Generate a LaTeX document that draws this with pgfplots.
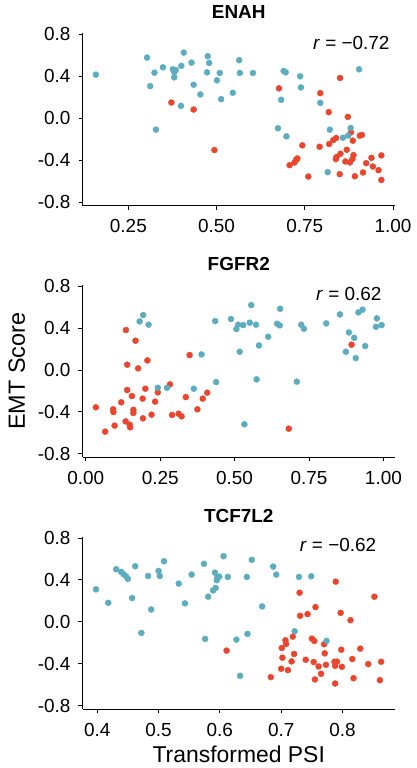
\documentclass[border=0pt]{standalone}
\usepackage{pgfplots}
\pgfplotsset{compat=1.18}
\usepackage{fontspec}
\setmainfont{Liberation Sans}

\definecolor{emtblue}{HTML}{5BADBF}
\definecolor{emtred}{HTML}{EC452E}

\tikzset{rnote/.style={anchor=base east, font=\fontsize{19}{20}\selectfont}}

\pgfplotsset{
  psipanel/.style={
    scale only axis,
    width=312.5bp, height=172.3bp,
    axis x line=bottom, axis y line=left,
    axis line style={-, line width=0.9bp, black},
    every tick/.style={line width=0.9bp, black},
    tick align=outside,
    major tick length=4bp,
    ymin=-0.835, ymax=0.81,
    ytick={-0.8,-0.4,0,0.4,0.8},
    yticklabels={-0.8,-0.4,0.0,0.4,0.8},
    tick label style={font=\fontsize{19}{20}\selectfont},
    xticklabel style={yshift=-6.5bp},
    yticklabel style={xshift=-4.5bp},
    title style={font=\fontsize{19}{20}\selectfont\bfseries, anchor=base,
                 at={(axis description cs:0.5,1.05)}},
    clip=false,
  },
  bluept/.style={only marks, mark=*, mark size=3bp, color=emtblue, mark options={draw=none, fill=emtblue}},
  redpt/.style={only marks, mark=*, mark size=3bp, color=emtred, mark options={draw=none, fill=emtred}},
}

\begin{document}
\begin{tikzpicture}
\useasboundingbox (0bp,0bp) rectangle (417bp,768bp);

% ENAH
\begin{axis}[psipanel, at={(82.5bp,562.3bp)}, anchor=south west,
  title={ENAH},
  xmin=0.12, xmax=1.0057,
  xtick={0.25,0.5,0.75,1}, xticklabels={0.25,0.50,0.75,1.00}]
\addplot[redpt] coordinates {
 (0.372,0.150) (0.435,0.083) (0.494,-0.304) (0.677,0.285) (0.743,-0.259)
 (0.707,-0.448) (0.721,-0.422) (0.726,-0.394) (0.729,-0.384) (0.760,-0.557)
 (0.794,0.240) (0.792,-0.272) (0.818,0.058) (0.819,-0.246) (0.831,-0.208)
 (0.839,-0.189) (0.850,0.384) (0.851,-0.339) (0.849,-0.534) (0.838,-0.390)
 (0.840,-0.370) (0.869,-0.301) (0.872,0.013) (0.881,-0.134) (0.886,-0.214)
 (0.865,-0.413) (0.878,-0.422) (0.885,-0.390) (0.888,-0.352) (0.892,-0.554)
 (0.906,-0.166) (0.912,-0.160) (0.915,-0.518) (0.924,-0.429) (0.939,-0.378)
 (0.943,-0.461) (0.959,-0.496) (0.967,-0.355) (0.967,-0.589)
};
\addplot[bluept] coordinates {
 (0.158,0.416) (0.303,0.579) (0.312,0.307) (0.324,0.435) (0.348,0.486)
 (0.328,-0.109) (0.376,0.467) (0.380,0.440) (0.384,0.460) (0.380,0.390)
 (0.400,0.500) (0.399,0.118) (0.407,0.627) (0.429,0.531) (0.435,0.320)
 (0.454,0.227) (0.473,0.438) (0.475,0.592) (0.479,0.528) (0.501,0.362)
 (0.509,0.432) (0.513,0.182) (0.546,0.243) (0.564,0.554) (0.566,0.432)
 (0.603,0.432) (0.674,-0.096) (0.683,0.176) (0.690,0.451) (0.696,0.438)
 (0.698,-0.173) (0.737,0.400) (0.739,0.294) (0.794,0.147) (0.821,-0.109)
 (0.815,-0.515) (0.858,-0.186) (0.873,-0.166) (0.880,-0.093) (0.904,0.467)
};
\node[rnote] at (axis description cs:0.9936,0.909) {\textit{r} = −0.72};
\end{axis}

% FGFR2
\begin{axis}[psipanel, at={(82.5bp,310.5bp)}, anchor=south west,
  title={FGFR2},
  xmin=-0.011, xmax=1.039,
  xtick={0,0.25,0.5,0.75,1}, xticklabels={0.00,0.25,0.50,0.75,1.00},
  ylabel={EMT Score},
  ylabel style={font=\fontsize{23.5}{25}\selectfont, anchor=base,
                at={(axis description cs:-0.184,0.5)}}]
\addplot[redpt] coordinates {
 (0.034,-0.356) (0.065,-0.588) (0.092,-0.375) (0.093,-0.401) (0.097,-0.531)
 (0.119,-0.308) (0.134,-0.490) (0.135,0.382) (0.139,-0.191) (0.139,0.051)
 (0.148,-0.522) (0.149,-0.547) (0.155,-0.248) (0.160,-0.380) (0.160,-0.410)
 (0.167,0.280) (0.176,0.016) (0.191,-0.273) (0.192,-0.461) (0.200,-0.178)
 (0.207,0.092) (0.221,-0.426) (0.233,-0.302) (0.242,-0.213) (0.283,-0.137)
 (0.290,-0.429) (0.312,-0.417) (0.322,-0.442) (0.336,-0.258) (0.349,0.143)
 (0.375,-0.375) (0.393,-0.273) (0.408,-0.216) (0.682,-0.560) (0.893,0.242)
};
\addplot[bluept] coordinates {
 (0.181,0.464) (0.193,0.525) (0.211,0.433) (0.242,-0.169) (0.273,-0.169)
 (0.363,-0.178) (0.389,0.149) (0.435,0.467) (0.438,-0.115) (0.488,0.487)
 (0.506,0.391) (0.512,0.433) (0.517,0.175) (0.529,0.429) (0.551,0.452)
 (0.556,0.620) (0.572,0.433) (0.574,-0.089) (0.582,0.235) (0.533,-0.518)
 (0.613,0.318) (0.643,0.442) (0.652,0.426) (0.653,0.585) (0.709,-0.111)
 (0.724,0.433) (0.733,0.394) (0.808,0.445) (0.854,0.531) (0.874,0.175)
 (0.884,0.359) (0.902,0.308) (0.907,0.114) (0.916,0.550) (0.930,0.576)
 (0.939,0.229) (0.978,0.493) (0.975,0.413) (0.994,0.429)
};
\node[rnote] at (axis description cs:0.968,0.909) {\textit{r} = 0.62};
\end{axis}

% TCF7L2
\begin{axis}[psipanel, at={(82.5bp,58.7bp)}, anchor=south west,
  title={TCF7L2},
  xmin=0.376, xmax=0.8856,
  xtick={0.4,0.5,0.6,0.7,0.8}, xticklabels={0.4,0.5,0.6,0.7,0.8},
  xlabel={Transformed PSI},
  xlabel style={font=\fontsize{23}{25}\selectfont, anchor=base,
                at={(axis description cs:0.5,-0.31)}}]
\addplot[redpt] coordinates {
 (0.611,-0.275) (0.683,-0.528) (0.700,-0.448) (0.701,-0.250) (0.702,-0.342)
 (0.707,-0.176) (0.708,-0.211) (0.711,-0.461) (0.717,-0.378) (0.719,-0.141)
 (0.721,-0.307) (0.730,0.278) (0.731,0.058) (0.740,-0.362) (0.743,0.074)
 (0.750,-0.160) (0.754,-0.182) (0.753,-0.384) (0.755,-0.550) (0.756,0.141)
 (0.761,-0.426) (0.765,-0.496) (0.770,-0.214) (0.771,-0.301) (0.773,-0.410)
 (0.787,-0.381) (0.788,-0.420) (0.791,-0.380) (0.788,-0.589) (0.789,0.384)
 (0.797,0.086) (0.798,-0.266) (0.799,-0.429) (0.813,0.016) (0.816,-0.355)
 (0.818,-0.538) (0.829,-0.256) (0.842,-0.403) (0.852,0.240) (0.861,-0.557)
 (0.863,-0.381)
};
\addplot[bluept] coordinates {
 (0.398,0.310) (0.418,0.182) (0.431,0.502) (0.439,0.477) (0.443,0.454)
 (0.447,0.435) (0.450,0.410) (0.457,0.227) (0.462,0.531) (0.472,-0.106)
 (0.483,0.438) (0.488,0.118) (0.500,0.486) (0.502,0.438) (0.509,0.579)
 (0.533,0.365) (0.543,0.176) (0.554,0.451) (0.574,0.554) (0.576,-0.163)
 (0.581,0.240) (0.589,0.300) (0.593,0.323) (0.595,0.397) (0.592,0.470)
 (0.596,0.426) (0.599,0.432) (0.606,0.627) (0.613,0.429) (0.627,-0.170)
 (0.633,-0.515) (0.644,0.429) (0.645,-0.115) (0.652,0.592) (0.669,0.147)
 (0.687,0.528) (0.692,0.451) (0.722,-0.090) (0.729,0.429) (0.749,0.435)
 (0.774,-0.182)
};
\node[rnote] at (axis description cs:0.951,0.914) {\textit{r} = −0.62};
\end{axis}
\end{tikzpicture}
\end{document}
